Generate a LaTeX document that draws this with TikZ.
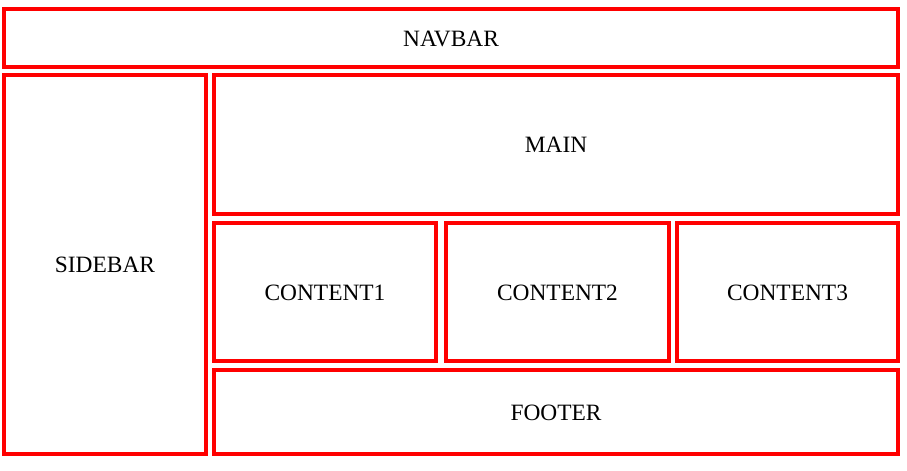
\documentclass[tikz,border=0pt]{standalone}
\usepackage{fontspec}
\setmainfont{Liberation Serif}
\definecolor{boxred}{HTML}{FF0000}
\begin{document}
\begin{tikzpicture}[x=1bp,y=-1bp,
  panel/.style={draw=boxred, line width=4bp, rectangle, inner sep=0pt, outer sep=0pt,
    text height=16.8bp, text depth=0pt,
    font=\fontsize{23.4bp}{28bp}\selectfont, text=black}]
\useasboundingbox (0,0) rectangle (907,471);
\node[panel, minimum width=894bp, minimum height=58bp] (nav) at (451,38) {NAVBAR};
\node[panel, minimum width=202bp, minimum height=379bp] (side) at (105,264.5) {SIDEBAR};
\node[panel, minimum width=684bp, minimum height=139bp] (main) at (556,144.5) {MAIN};
\node[panel, minimum width=222bp, minimum height=138bp] (c1) at (325,292) {CONTENT1};
\node[panel, minimum width=223bp, minimum height=138bp] (c2) at (557.5,292) {CONTENT2};
\node[panel, minimum width=221bp, minimum height=138bp] (c3) at (787.5,292) {CONTENT3};
\node[panel, minimum width=684bp, minimum height=84bp] (foot) at (556,412) {FOOTER};
\end{tikzpicture}
\end{document}
